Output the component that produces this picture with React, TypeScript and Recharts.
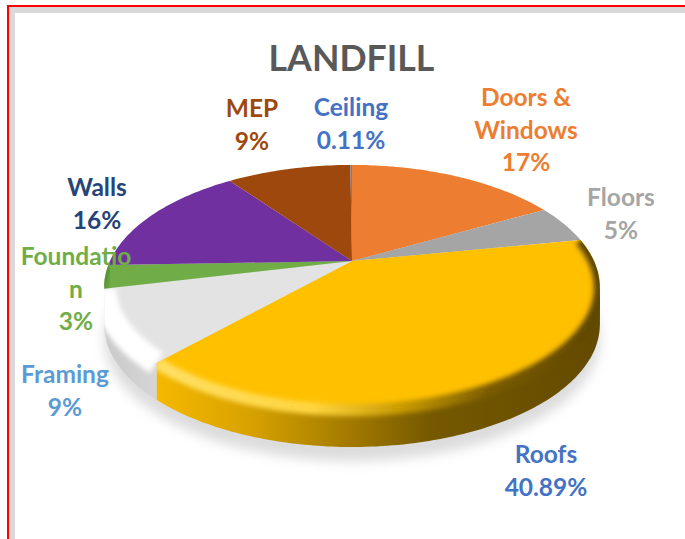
import React from 'react';
import { PieChart, Pie } from 'recharts';

const categories = ['Doors & Windows', 'Floors', 'Roofs', 'Framing', 'Foundation', 'Walls', 'MEP', 'Ceiling'];
const shares = [17, 5, 40.89, 9, 3, 16, 9, 0.11];
const shareLabels = ['17%', '5%', '40.89%', '9%', '3%', '16%', '9%', '0.11%'];
const nameLines = [['Doors &', 'Windows'], ['Floors'], ['Roofs'], ['Framing'], ['Foundatio', 'n'], ['Walls'], ['MEP'], ['Ceiling']];
const sliceColors = ['#ED7D31', '#A5A5A5', '#FFC000', '#E3E3E3', '#70AD47', '#7030A0', '#9E480E', '#6F7F9C'];
const labelColors = ['#ED7D31', '#A5A5A5', '#4472C4', '#5B9BD5', '#70AD47', '#264478', '#9E480E', '#4472C4'];
const labelCenters = [526, 621, 546, 65, 76, 97, 252, 351];
const labelBaselines = [106, 206, 463, 383, 265, 196, 117, 116];

const W = 685, H = 539, CX = 352, CY = 261, RX = 242, RY = 116.8, TILT = 0.216, DEPTH = 37;
const RIM_FROM = 102.5, RIM_TO = 258.9;
const LINE = 32.5;

const data = categories.map((name, i) => ({ name, value: shares[i] }));
const whole = [{ name: 'all', value: shares.reduce((a, b) => a + b, 0) }];

// The reference's perspective squeezes the left half slightly: angles there read a few degrees early.
function warp(t: number) {
  const m = ((t % 360) + 360) % 360;
  if (m <= 180) return t;
  const x = ((m - 180) * Math.PI) / 180;
  return t - 3.36 * Math.sin(x) - 1.76 * Math.sin(3 * x);
}
function pt(t: number, dy = 0): [number, number] {
  const r = (warp(t) * Math.PI) / 180;
  const w = 1 + TILT * Math.cos(r);
  return [CX + (RX * Math.sin(r)) / w, CY - (RY * Math.cos(r)) / w + dy];
}
function arc(a: number, b: number, dy = 0): [number, number][] {
  const n = Math.max(2, Math.ceil(Math.abs(b - a)) + 1);
  const out: [number, number][] = [];
  for (let i = 0; i < n; i++) out.push(pt(a + ((b - a) * i) / (n - 1), dy));
  return out;
}
const toD = (p: [number, number][], close = true) =>
  'M' + p.map((q) => q[0].toFixed(1) + ' ' + q[1].toFixed(1)).join('L') + (close ? 'Z' : '');

const theta = (angle: number) => 90 - angle;

function Face(props: any) {
  const a = theta(props.startAngle), b = theta(props.endAngle);
  const i = categories.indexOf(props.name ?? props.payload?.name);
  const face = toD([[CX, CY], ...arc(a, b)]);
  const from = Math.max(a, RIM_FROM), to = Math.min(b, RIM_TO);
  const id = 'clip' + i;
  const bevel = i === 2 ? 'url(#bevelRoofs)' : i === 3 ? '#FFFFFF' : i === 4 ? '#558F33' : null;
  return (
    <g>
      <clipPath id={id}><path d={face} />{to > from ? <path d={toD([...arc(from, to), ...arc(to, from, DEPTH)])} /> : null}</clipPath>
      <path d={face} fill={sliceColors[i]} />
      {bevel ? (
        <g clipPath={`url(#${id})`}>
          <path d={toD(arc(a, b), false)} fill="none" stroke={bevel} strokeWidth={i === 3 ? 24 : i === 2 ? 12 : 7} filter="url(#soft)" />
        </g>
      ) : null}
    </g>
  );
}

function Rim(props: any) {
  const a = theta(props.startAngle), b = theta(props.endAngle);
  const i = categories.indexOf(props.name ?? props.payload?.name);
  const from = Math.max(a, RIM_FROM), to = Math.min(b, RIM_TO);
  if (to <= from + 0.5) return <g />;
  return (
    <path
      d={toD([...arc(from, to), ...arc(to, from, DEPTH)])}
      fill={i === 2 ? 'url(#rimRoofs)' : 'url(#rimFraming)'}
    />
  );
}

function Shadow() {
  return (
    <path
      d={toD([...arc(0, 360, DEPTH + 14)])}
      fill="#BFBFBF"
      opacity={0.55}
      filter="url(#shadowBlur)"
    />
  );
}

function SliceLabel(props: any) {
  const i = props.index as number;
  const lines = [...nameLines[i], shareLabels[i]];
  return (
    <text
      textAnchor="middle"
      fontFamily="Lato, sans-serif"
      fontWeight={700}
      fontSize={24.5}
      fill={labelColors[i]}
    >
      {lines.map((l, k) => (
        <tspan key={k} x={labelCenters[i]} y={labelBaselines[i] + k * LINE}>{l}</tspan>
      ))}
    </text>
  );
}

export default function App() {
  return (
    <div style={{ position: 'fixed', left: 0, top: 0, width: W, height: H, overflow: 'hidden', background: '#fff' }}>
      <div style={{ position: 'absolute', left: 7, top: 5, width: 800, height: 700, borderLeft: '2px solid #FF0000', borderTop: '2px solid #FF0000', boxSizing: 'border-box' }} />
      <div style={{ position: 'absolute', left: 9, top: 7, width: 800, height: 700, borderLeft: '6px solid #D9D9D9', borderTop: '6px solid #D9D9D9', boxSizing: 'border-box' }} />
      <div style={{ position: 'absolute', left: 0, top: 0 }}>
        <PieChart width={W} height={H} margin={{ top: 0, right: 0, bottom: 0, left: 0 }}>
          <defs>
            <linearGradient id="rimRoofs" gradientUnits="userSpaceOnUse" x1="158" y1="0" x2="600" y2="0">
              <stop offset="0" stopColor="#F5B800" />
              <stop offset="0.2" stopColor="#D9A300" />
              <stop offset="0.42" stopColor="#A67D00" />
              <stop offset="0.62" stopColor="#755800" />
              <stop offset="1" stopColor="#634A00" />
            </linearGradient>
            <linearGradient id="rimFraming" gradientUnits="userSpaceOnUse" x1="103" y1="0" x2="160" y2="0">
              <stop offset="0" stopColor="#C9C9C9" />
              <stop offset="1" stopColor="#D6D6D6" />
            </linearGradient>
            <linearGradient id="bevelRoofs" gradientUnits="userSpaceOnUse" x1="158" y1="0" x2="600" y2="0">
              <stop offset="0" stopColor="#FFE066" />
              <stop offset="0.35" stopColor="#FFD640" />
              <stop offset="0.55" stopColor="#C99A00" />
              <stop offset="0.75" stopColor="#7A5C00" />
              <stop offset="1" stopColor="#5E4600" />
            </linearGradient>
            <filter id="soft" x="-20%" y="-20%" width="140%" height="140%"><feGaussianBlur stdDeviation="2.5" /></filter>
            <filter id="shadowBlur" x="-20%" y="-20%" width="140%" height="140%"><feGaussianBlur stdDeviation="6" /></filter>
          </defs>
          <text x={351.5} y={71} textAnchor="middle" fontFamily="Lato, sans-serif" fontWeight={700} fontSize={35.7} fill="#595959">LANDFILL</text>
          <Pie data={whole} dataKey="value" cx={CX} cy={CY} outerRadius={RX} startAngle={90} endAngle={-270} stroke="none" isAnimationActive={false} shape={Shadow} />
          <Pie data={data} dataKey="value" cx={CX} cy={CY} outerRadius={RX} startAngle={90} endAngle={-270} stroke="none" isAnimationActive={false} shape={Rim} />
          <Pie data={data} dataKey="value" cx={CX} cy={CY} outerRadius={RX} startAngle={90} endAngle={-270} stroke="none" isAnimationActive={false} shape={Face} label={SliceLabel} labelLine={false} />
        </PieChart>
      </div>
    </div>
  );
}
